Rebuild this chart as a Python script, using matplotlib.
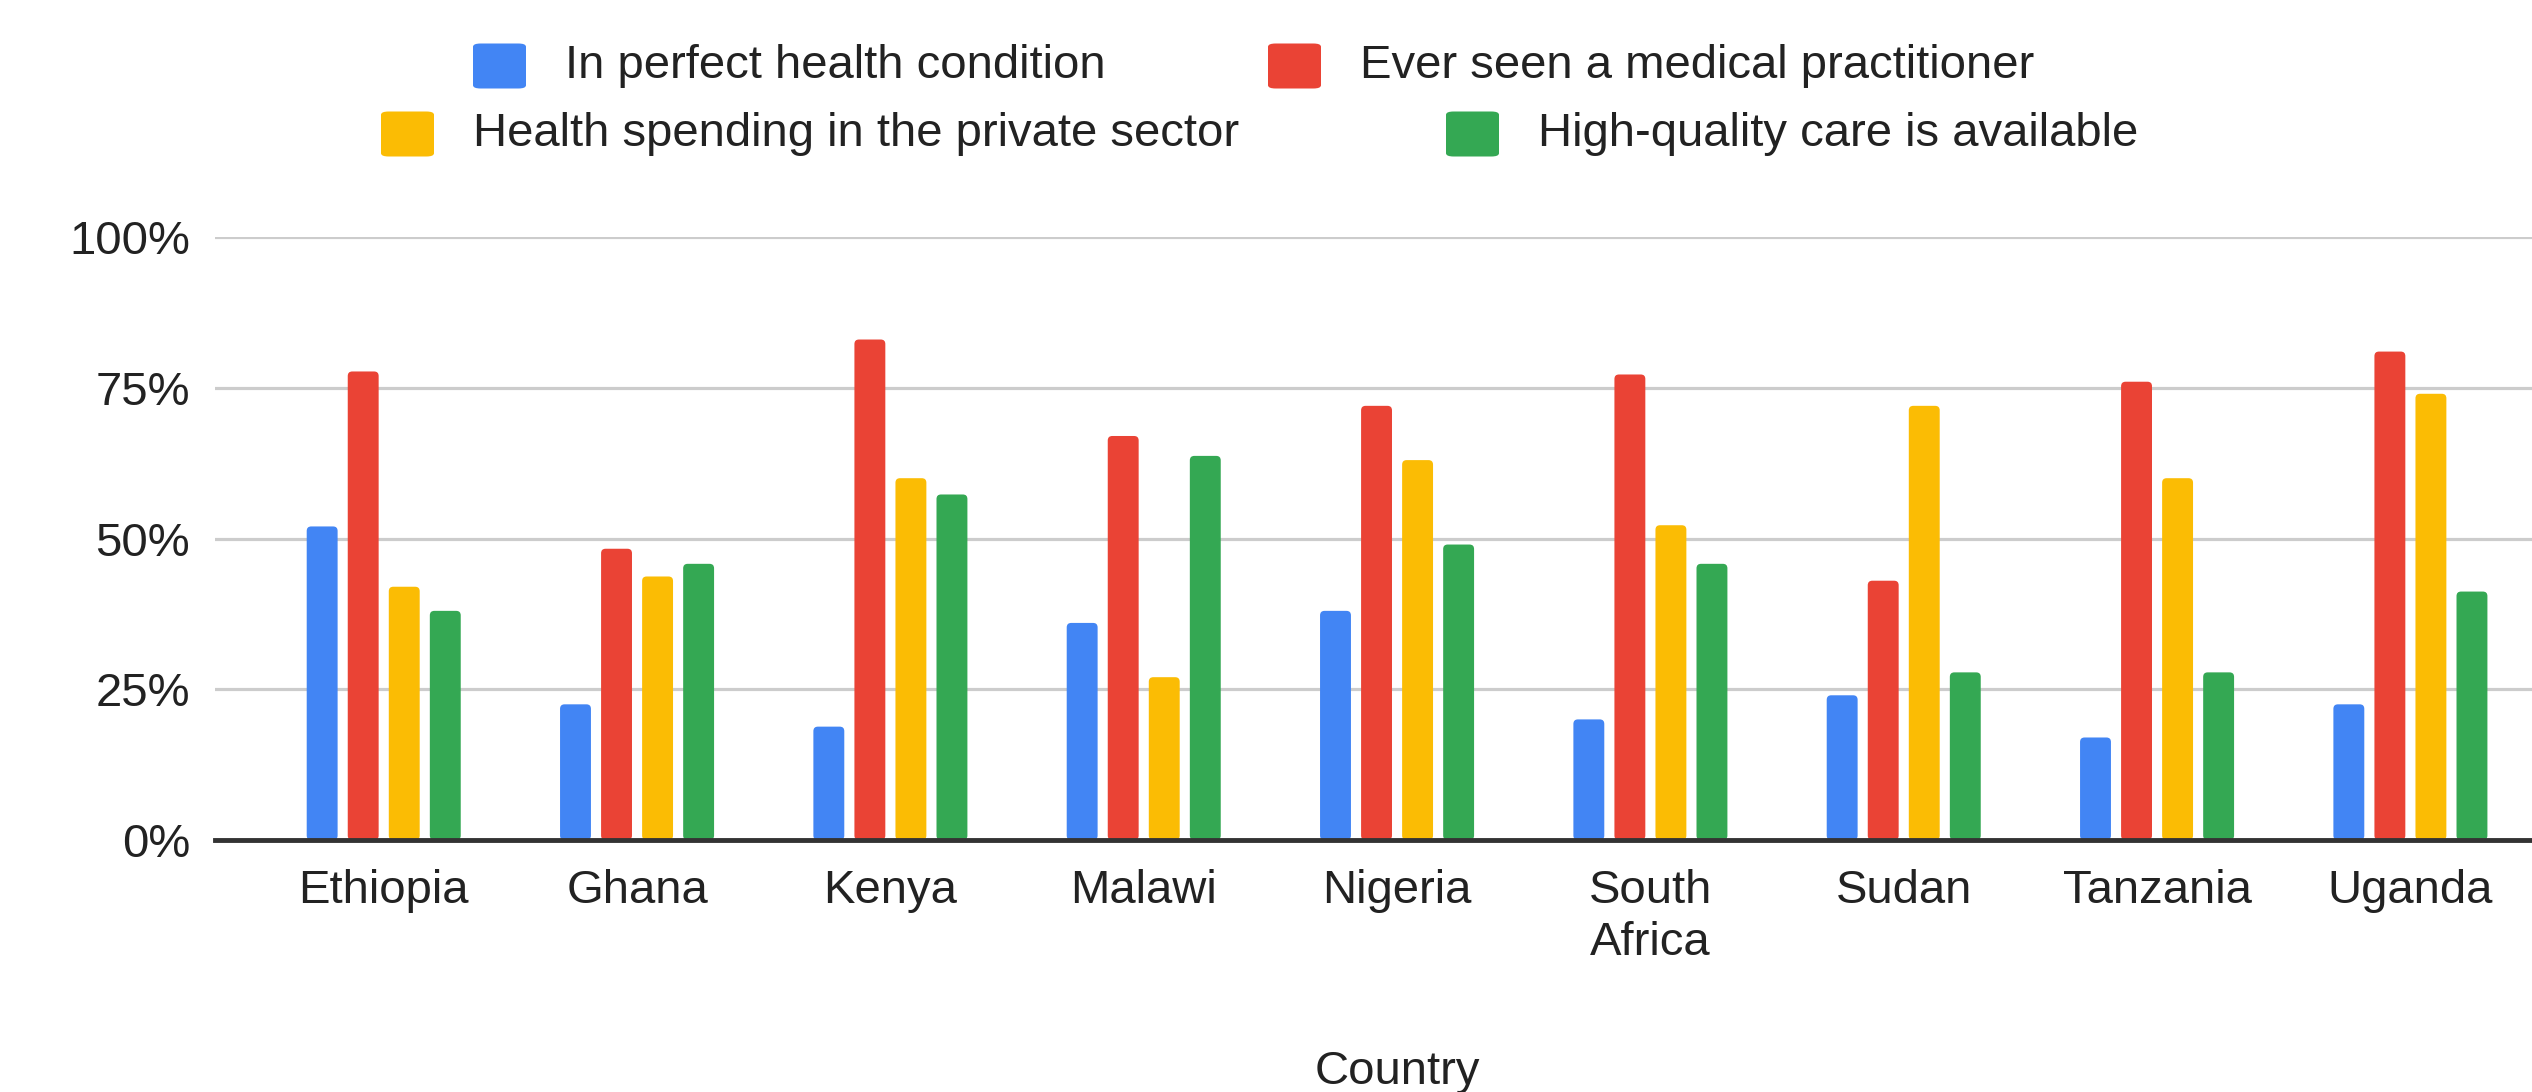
import matplotlib
matplotlib.use("Agg")
import matplotlib.pyplot as plt
from matplotlib.patches import FancyBboxPatch
from matplotlib.ticker import FuncFormatter
import numpy as np

plt.rcParams['font.family'] = ['Liberation Sans', 'DejaVu Sans']

countries = ["Ethiopia", "Ghana", "Kenya", "Malawi", "Nigeria",
             "South\nAfrica", "Sudan", "Tanzania", "Uganda"]
series_names = ["In perfect health condition",
                "Ever seen a medical practitioner",
                "Health spending in the private sector",
                "High-quality care is available"]
perfect_health = [52, 22.5, 18.8, 36, 38, 20, 24, 17, 22.5]
seen_practitioner = [77.7, 48.3, 83, 67, 72, 77.2, 43, 76, 81]
private_spending = [42, 43.7, 60, 27, 63, 52.2, 72, 60, 74]
quality_care = [38, 45.8, 57.3, 63.7, 49, 45.8, 27.8, 27.8, 41.2]
yticks = [0, 25, 50, 75, 100]

colors = ["#4285F4", "#EA4335", "#FBBC04", "#34A853"]
text_color = "#222222"
fs = 34

W, H = 2532, 1092
ax_left, ax_top, ax_bottom = 215, 237, 840
fig = plt.figure(figsize=(W / 100, H / 100), dpi=100)
ax = fig.add_axes([ax_left / W, 1 - ax_bottom / H, 1 - ax_left / W,
                   (ax_bottom - ax_top) / H])

xlim = (-0.666, 8.48)
ylim = (0, 100)
ax.set_xlim(*xlim)
ax.set_ylim(*ylim)

x = np.arange(len(countries))
step = 0.162
width = 0.122
all_series = [perfect_health, seen_practitioner, private_spending, quality_care]

# pixel size of one data unit, used to keep the corner rounding circular
px_per_x = (W - ax_left) / (xlim[1] - xlim[0])
px_per_y = (ax_bottom - ax_top) / (ylim[1] - ylim[0])
radius_px = 4.5

for i, (vals, c) in enumerate(zip(all_series, colors)):
    bars = ax.bar(x + (i - 1.5) * step, vals, width=width, color=c, zorder=3,
                  linewidth=0)
    for r in bars.patches:
        rounded = FancyBboxPatch(
            (r.get_x(), r.get_y()), r.get_width(), r.get_height(),
            boxstyle=f"round,pad=0,rounding_size={radius_px / px_per_x}",
            mutation_aspect=px_per_x / px_per_y,
            facecolor=c, edgecolor='none', zorder=3)
        ax.add_patch(rounded)
        r.set_visible(False)

ax.set_yticks(yticks)
ax.yaxis.set_major_formatter(FuncFormatter(lambda v, p: f"{v:.0f}%"))
ax.set_xticks(x)
ax.set_xticklabels(countries, linespacing=1.22)
ax.tick_params(axis='both', length=0, labelsize=fs, labelcolor=text_color)
ax.tick_params(axis='y', pad=18)
ax.tick_params(axis='x', pad=21)
for s in ax.spines.values():
    s.set_visible(False)
ax.grid(axis='y', color="#cccccc", linewidth=2.3, zorder=0)
ax.set_axisbelow(True)
ax.axhline(0, color="#333333", linewidth=3.5, zorder=4, clip_on=False)

# x-axis title centred on the category range
ax.text(4.0, -(1052 - ax_bottom - 2) / (ax_bottom - ax_top), "Country",
        transform=ax.get_xaxis_transform(), ha='center', va='top',
        fontsize=fs, color=text_color)

# legend laid out in two centred rows
legend_rows = [
    [(473, 565, 0), (1268, 1360, 1)],
    [(381, 473, 2), (1446, 1538, 3)],
]
row_y = [66, 134]
sw_w, sw_h = 53, 45
for row, yc in zip(legend_rows, row_y):
    for sx, tx, idx in row:
        patch = FancyBboxPatch((sx / W, 1 - (yc + sw_h / 2) / H),
                               sw_w / W, sw_h / H,
                               boxstyle="round,pad=0,rounding_size=0.003",
                               transform=fig.transFigure, facecolor=colors[idx],
                               edgecolor='none')
        fig.patches.append(patch)
        fig.text(tx / W, 1 - yc / H, series_names[idx], fontsize=fs,
                 color=text_color, ha='left', va='center')

fig.savefig("out.png", dpi=100, facecolor='white')
